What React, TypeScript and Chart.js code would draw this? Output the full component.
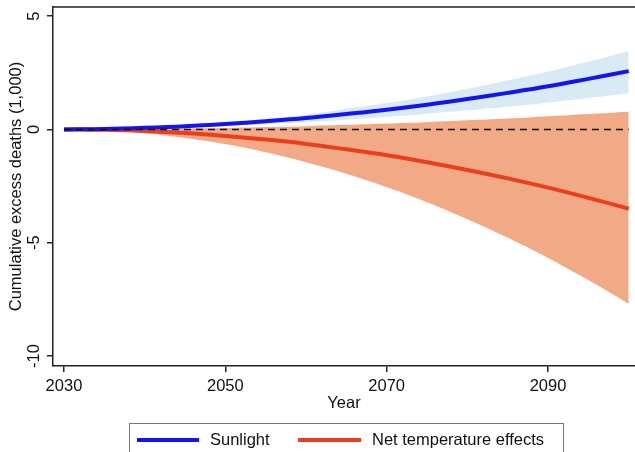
import React, { useEffect, useRef } from "react";
import { Chart, registerables } from "chart.js";

Chart.register(...registerables);

// Projection years (5-year steps)
const years = [2030, 2035, 2040, 2045, 2050, 2055, 2060, 2065, 2070, 2075, 2080, 2085, 2090, 2095, 2100];

// Cumulative excess deaths (thousands): sunlight exposure
const sunlight = [0, 0.02, 0.07, 0.14, 0.24, 0.36, 0.5, 0.68, 0.87, 1.09, 1.34, 1.61, 1.9, 2.23, 2.57];
const sunlightUpper = [0, 0.03, 0.09, 0.18, 0.31, 0.47, 0.66, 0.9, 1.16, 1.45, 1.79, 2.16, 2.55, 2.99, 3.45];
const sunlightLower = [0, 0.02, 0.05, 0.1, 0.16, 0.23, 0.32, 0.43, 0.55, 0.69, 0.84, 1.0, 1.18, 1.38, 1.59];

// Cumulative excess deaths (thousands): net temperature effects
const netTemp = [0, -0.02, -0.07, -0.16, -0.29, -0.45, -0.64, -0.88, -1.14, -1.45, -1.79, -2.16, -2.57, -3.02, -3.5];
const netTempUpper = [0, 0.0, 0.02, 0.04, 0.06, 0.1, 0.14, 0.2, 0.26, 0.32, 0.4, 0.48, 0.58, 0.68, 0.78];
const netTempLower = [0, -0.05, -0.17, -0.38, -0.65, -1.01, -1.45, -1.96, -2.55, -3.21, -3.96, -4.78, -5.67, -6.65, -7.7];

const xTicks = [2030, 2050, 2070, 2090];
const yTicks = [5, 0, -5, -10];
const seriesNames = ["Sunlight", "Net temperature effects"];

const FONT = '"Liberation Sans", Arial, Helvetica, sans-serif';
const AXIS = "#222222";
const BLUE = "#1414F0";
const RED = "#EA3E1C";
const BLUE_BAND = "#D8EAF3";
const RED_BAND = "#F2A985";

const pts = (vals: number[]) => vals.map((y, i) => ({ x: years[i], y }));

const labelsPlugin = {
  id: "labels",
  afterDraw(chart: any) {
    const { ctx, chartArea } = chart;
    const xs = chart.scales.x;
    const ys = chart.scales.y;
    ctx.save();

    // top frame line
    ctx.strokeStyle = AXIS;
    ctx.lineWidth = 1.5;
    ctx.beginPath();
    ctx.moveTo(chartArea.left, chartArea.top);
    ctx.lineTo(chartArea.right, chartArea.top);
    ctx.stroke();

    ctx.fillStyle = "#111";
    ctx.font = `16.5px ${FONT}`;

    // y tick labels, rotated
    for (const v of yTicks) {
      const y = ys.getPixelForValue(v);
      ctx.save();
      ctx.translate(34, y);
      ctx.rotate(-Math.PI / 2);
      ctx.textAlign = "center";
      ctx.textBaseline = "middle";
      ctx.fillText(String(v), 0, 0);
      ctx.restore();
    }

    // y axis title
    ctx.save();
    ctx.translate(16, (chartArea.top + chartArea.bottom) / 2);
    ctx.rotate(-Math.PI / 2);
    ctx.textAlign = "center";
    ctx.textBaseline = "middle";
    ctx.fillText("Cumulative excess deaths (1,000)", 0, 0);
    ctx.restore();

    // x tick labels
    ctx.textAlign = "center";
    ctx.textBaseline = "alphabetic";
    for (const v of xTicks) {
      ctx.fillText(String(v), xs.getPixelForValue(v), 391);
    }
    ctx.fillText("Year", (chartArea.left + chartArea.right) / 2, 408);

    // legend box
    ctx.strokeStyle = "#777";
    ctx.lineWidth = 1;
    ctx.strokeRect(129.5, 423.5, 434, 40);

    const ly = 440;
    ctx.lineWidth = 4;
    ctx.strokeStyle = BLUE;
    ctx.beginPath();
    ctx.moveTo(137, ly);
    ctx.lineTo(199, ly);
    ctx.stroke();
    ctx.strokeStyle = RED;
    ctx.beginPath();
    ctx.moveTo(298, ly);
    ctx.lineTo(361, ly);
    ctx.stroke();

    ctx.textAlign = "left";
    ctx.textBaseline = "middle";
    ctx.fillStyle = "#111";
    ctx.fillText(seriesNames[0], 210, ly);
    ctx.fillText(seriesNames[1], 372, ly);

    ctx.restore();
  },
};

export default function App() {
  const canvasRef = useRef<HTMLCanvasElement | null>(null);

  useEffect(() => {
    const canvas = canvasRef.current;
    if (!canvas) return;
    const chart = new Chart(canvas, {
      type: "line",
      data: {
        datasets: [
          // 0: sunlight band upper (fills to 1)
          {
            data: pts(sunlightUpper),
            borderWidth: 0,
            pointRadius: 0,
            backgroundColor: BLUE_BAND,
            fill: 1,
            tension: 0.4,
            order: 3,
          } as any,
          // 1: sunlight band lower
          {
            data: pts(sunlightLower),
            borderWidth: 0,
            pointRadius: 0,
            fill: false,
            tension: 0.4,
            order: 3,
          },
          // 2: net temperature band upper (fills to 3)
          {
            data: pts(netTempUpper),
            borderWidth: 0,
            pointRadius: 0,
            backgroundColor: RED_BAND,
            fill: 3,
            tension: 0.4,
            order: 3,
          } as any,
          // 3: net temperature band lower
          {
            data: pts(netTempLower),
            borderWidth: 0,
            pointRadius: 0,
            fill: false,
            tension: 0.4,
            order: 3,
          },
          {
            label: seriesNames[1],
            data: pts(netTemp),
            borderColor: RED,
            borderWidth: 4,
            pointRadius: 0,
            fill: false,
            tension: 0.4,
            order: 2,
          },
          {
            label: seriesNames[0],
            data: pts(sunlight),
            borderColor: BLUE,
            borderWidth: 4,
            pointRadius: 0,
            fill: false,
            tension: 0.4,
            order: 1,
          },
          // zero reference line
          {
            data: [
              { x: years[0], y: 0 },
              { x: years[years.length - 1], y: 0 },
            ],
            borderColor: "#111",
            borderWidth: 1.5,
            borderDash: [7, 5],
            pointRadius: 0,
            fill: false,
            order: 0,
          },
        ],
      },
      options: {
        animation: false,
        responsive: false,
        devicePixelRatio: 1,
        layout: { padding: { top: 7, left: 0, right: 0, bottom: 0 } },
        plugins: {
          legend: { display: false },
          tooltip: { enabled: false },
        },
        scales: {
          x: {
            type: "linear",
            min: 2028.64,
            max: 2100.78,
            afterBuildTicks: (scale: any) => {
              scale.ticks = xTicks.map((v) => ({ value: v }));
            },
            afterFit: (scale: any) => {
              scale.height = 86;
            },
            ticks: { display: false },
            grid: {
              drawOnChartArea: false,
              drawTicks: true,
              tickLength: 6,
              color: AXIS,
              lineWidth: 1.5,
            },
            border: { display: true, color: AXIS, width: 1.5 },
          },
          y: {
            type: "linear",
            min: -10.44,
            max: 5.4,
            afterBuildTicks: (scale: any) => {
              scale.ticks = yTicks.map((v) => ({ value: v }));
            },
            afterFit: (scale: any) => {
              scale.width = 53;
            },
            ticks: { display: false },
            grid: {
              drawOnChartArea: false,
              drawTicks: true,
              tickLength: 6,
              color: AXIS,
              lineWidth: 1.5,
            },
            border: { display: true, color: AXIS, width: 1.5 },
          },
        },
      },
      plugins: [labelsPlugin],
    });
    return () => chart.destroy();
  }, []);

  return (
    <div style={{ position: "absolute", left: 0, top: 0, width: 635, height: 452, background: "#fff" }}>
      <canvas ref={canvasRef} width={635} height={452} style={{ display: "block" }} />
    </div>
  );
}
